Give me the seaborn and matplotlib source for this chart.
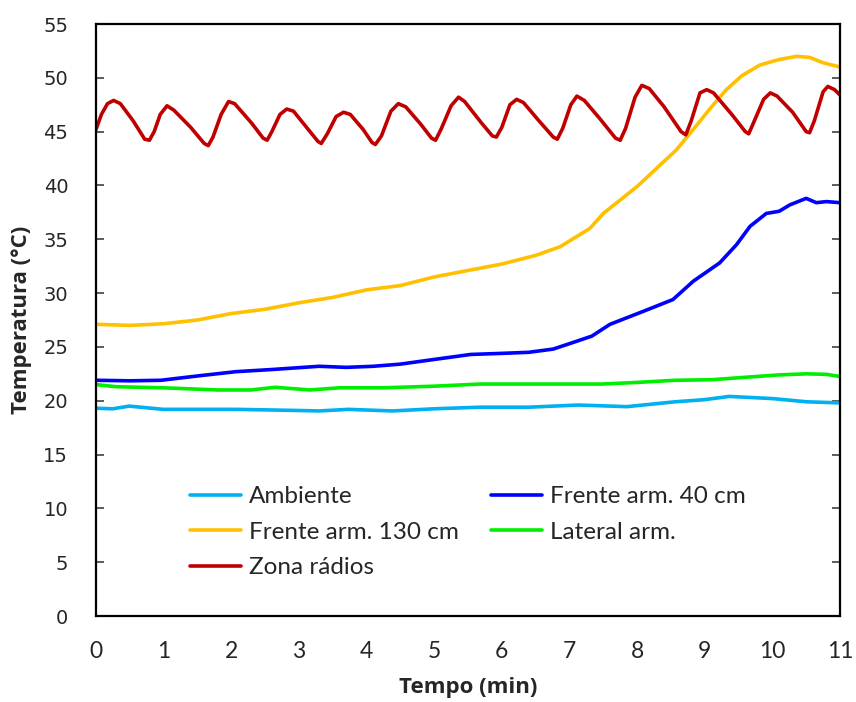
import matplotlib
matplotlib.use("Agg")
import matplotlib.pyplot as plt
import seaborn as sns
import pandas as pd

series_names = ["Ambiente", "Frente arm. 40 cm", "Frente arm. 130 cm", "Lateral arm.", "Zona rádios"]
colors = ["#00B0F0", "#0000FF", "#FFC000", "#00EE00", "#C00000"]

amb_t = [0, 0.25, 0.49, 0.99, 1.5, 2.07, 2.94, 3.3, 3.73, 4.38, 5.0, 5.68, 6.4, 7.13, 7.85, 8.56, 9.0, 9.36, 10.0, 10.51, 11.0]
amb_v = [19.3, 19.25, 19.5, 19.2, 19.2, 19.2, 19.1, 19.05, 19.2, 19.05, 19.25, 19.4, 19.4, 19.6, 19.45, 19.9, 20.1, 20.4, 20.2, 19.9, 19.8]

f40_t = [0, 0.5, 0.96, 1.5, 2.07, 2.6, 3.3, 3.7, 4.1, 4.5, 4.96, 5.54, 6.0, 6.4, 6.76, 7.0, 7.33, 7.6, 8.09, 8.53, 8.83, 9.22, 9.47, 9.67, 9.91, 10.1, 10.26, 10.5, 10.65, 10.8, 11.0]
f40_v = [21.9, 21.85, 21.9, 22.3, 22.7, 22.9, 23.2, 23.1, 23.2, 23.4, 23.8, 24.3, 24.4, 24.5, 24.8, 25.3, 26.0, 27.1, 28.3, 29.4, 31.1, 32.8, 34.5, 36.2, 37.4, 37.6, 38.2, 38.8, 38.4, 38.5, 38.4]

f130_t = [0, 0.5, 1.0, 1.5, 2.0, 2.5, 3.0, 3.5, 4.0, 4.5, 5.0, 5.5, 6.0, 6.5, 6.86, 7.3, 7.5, 8.0, 8.29, 8.58, 8.83, 9.1, 9.32, 9.55, 9.82, 10.1, 10.36, 10.55, 10.75, 11.0]
f130_v = [27.1, 27.0, 27.15, 27.5, 28.1, 28.5, 29.1, 29.6, 30.3, 30.7, 31.5, 32.1, 32.7, 33.5, 34.3, 36.0, 37.4, 39.9, 41.6, 43.3, 45.2, 47.3, 48.9, 50.2, 51.2, 51.7, 52.0, 51.9, 51.4, 51.0]

lat_t = [0, 0.3, 1.0, 1.8, 2.29, 2.65, 3.16, 3.6, 4.24, 5.0, 5.68, 6.5, 7.48, 8.0, 8.56, 9.1, 9.65, 10.1, 10.51, 10.8, 11.0]
lat_v = [21.5, 21.3, 21.2, 21.0, 21.0, 21.25, 21.0, 21.2, 21.2, 21.35, 21.55, 21.55, 21.55, 21.7, 21.9, 21.95, 22.2, 22.4, 22.5, 22.45, 22.25]

rad_t = [0.0, 0.08, 0.17, 0.26, 0.36, 0.55, 0.72, 0.79, 0.86, 0.95, 1.05, 1.15, 1.40, 1.60, 1.66, 1.73, 1.85, 1.96, 2.05, 2.30, 2.47, 2.53, 2.60, 2.72, 2.82, 2.92, 3.10, 3.28, 3.33, 3.42, 3.55, 3.66, 3.76, 3.95, 4.08, 4.13, 4.22, 4.36, 4.47, 4.58, 4.80, 4.96, 5.02, 5.10, 5.25, 5.36, 5.45, 5.70, 5.86, 5.92, 6.00, 6.12, 6.22, 6.32, 6.55, 6.76, 6.82, 6.90, 7.02, 7.11, 7.22, 7.45, 7.68, 7.75, 7.83, 7.97, 8.07, 8.18, 8.40, 8.65, 8.72, 8.80, 8.93, 9.03, 9.13, 9.40, 9.60, 9.65, 9.72, 9.87, 9.97, 10.07, 10.30, 10.50, 10.55, 10.62, 10.75, 10.82, 10.92, 11.0]
rad_v = [45.2, 46.6, 47.6, 47.9, 47.6, 46.0, 44.3, 44.2, 45.0, 46.6, 47.4, 47.0, 45.4, 43.9, 43.7, 44.5, 46.6, 47.8, 47.6, 45.8, 44.4, 44.2, 45.0, 46.6, 47.1, 46.9, 45.5, 44.1, 43.9, 44.8, 46.4, 46.8, 46.6, 45.2, 44.0, 43.8, 44.6, 46.9, 47.6, 47.3, 45.7, 44.4, 44.2, 45.2, 47.4, 48.2, 47.8, 45.8, 44.6, 44.5, 45.4, 47.5, 48.0, 47.7, 46.0, 44.5, 44.3, 45.3, 47.5, 48.3, 47.9, 46.2, 44.4, 44.2, 45.3, 48.2, 49.3, 49.0, 47.3, 45.0, 44.7, 46.0, 48.6, 48.9, 48.6, 46.6, 45.0, 44.8, 45.8, 48.0, 48.6, 48.3, 46.8, 45.0, 44.9, 46.0, 48.7, 49.2, 48.9, 48.4]

xticks = list(range(0, 12))
yticks = list(range(0, 60, 5))

frames = []
for name, t, v in zip(series_names,
                      [amb_t, f40_t, f130_t, lat_t, rad_t],
                      [amb_v, f40_v, f130_v, lat_v, rad_v]):
    frames.append(pd.DataFrame({"Tempo": t, "Temp": v, "Serie": name}))
df = pd.concat(frames, ignore_index=True)

sns.set_style("white")
fig = plt.figure(figsize=(8.56, 7.02), dpi=100)
ax = fig.add_axes([96/856, 86/702, 744/856, 592/702])

sns.lineplot(data=df, x="Tempo", y="Temp", hue="Serie", hue_order=series_names,
             palette=colors, linewidth=2.6, sort=False, estimator=None, ax=ax)

ax.set_xlim(0, 11)
ax.set_ylim(0, 55)
ax.set_xticks(xticks)
ax.set_yticks(yticks)
ax.set_xticklabels([str(x) for x in xticks], fontfamily="Lato", fontsize=16.5)
ax.set_yticklabels([str(y) for y in yticks], fontfamily="DejaVu Sans", fontsize=14)
for s in ax.spines.values():
    s.set_visible(True)
    s.set_color("black")
    s.set_linewidth(1.6)
ax.tick_params(axis="both", direction="in", length=6, width=1.2, color="#404040")
ax.tick_params(axis="y", right=True, left=True, pad=20)
ax.tick_params(axis="x", pad=18)

ax.set_xlabel("Tempo (min)", fontfamily="Open Sans", fontweight="bold", fontsize=16, labelpad=11)
ax.set_ylabel("Temperatura (°C)", fontfamily="Open Sans", fontweight="bold", fontsize=16, labelpad=8)

handles, labels = ax.get_legend_handles_labels()
order = [0, 2, 4, 1, 3]
leg = ax.legend([handles[i] for i in order], [labels[i] for i in order], ncol=2,
                frameon=False, loc="upper left",
                bbox_to_anchor=(0.1263, 0.2195), prop={"family": "Lato", "size": 17.5},
                handlelength=2.1, handletextpad=0.33, columnspacing=1.3,
                labelspacing=0.6, borderpad=0, borderaxespad=0)
for lh in leg.get_lines():
    lh.set_linewidth(2.6)

fig.savefig("out.png", dpi=100)
